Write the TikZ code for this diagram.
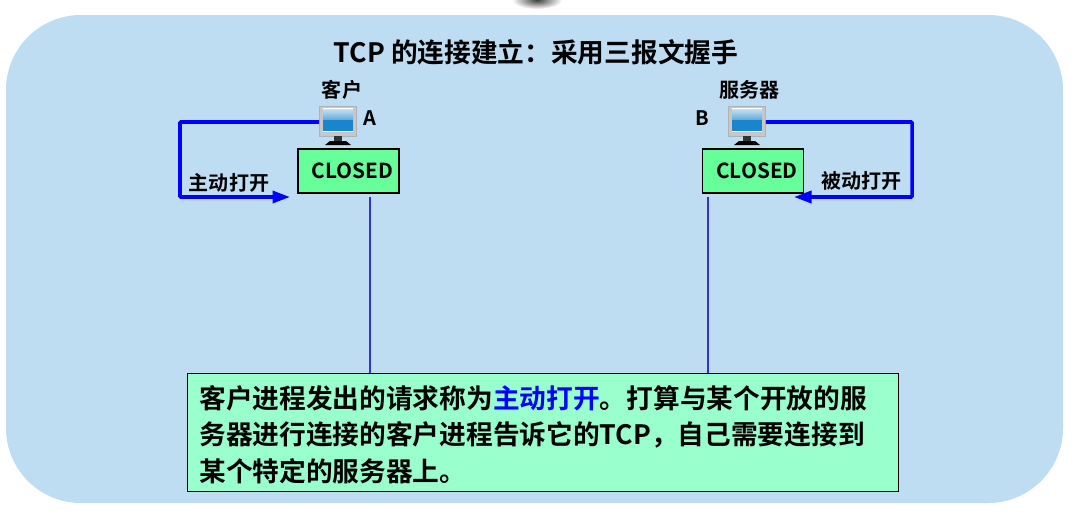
\documentclass[tikz,border=0pt]{standalone}
\usepackage{fontspec}
\setmainfont{Noto Sans CJK SC}[BoldFont={Noto Sans CJK SC Bold}]
\usetikzlibrary{arrows.meta,positioning,calc}
\definecolor{panelblue}{HTML}{BEDCF2}
\definecolor{closedgreen}{HTML}{66FF99}
\definecolor{notegreen}{HTML}{99FFCC}
\definecolor{lifeblue}{HTML}{3333CC}
\definecolor{screenblue}{HTML}{1A84CC}
\newcommand{\closedtext}{\hspace*{0.16cm}\raisebox{-2pt}{CLOSED}}
\tikzset{
  statebox/.style={draw=black,line width=0.7pt,fill=closedgreen,minimum width=2.02cm,minimum height=0.88cm,inner sep=0pt,font=\bfseries\fontsize{11.8}{11.8}\selectfont},
  hostlabel/.style={inner sep=0pt,font=\bfseries\fontsize{11.4}{11.4}\selectfont},
  openline/.style={draw=blue,line width=2pt,rounded corners=0.5pt},
  opentip/.style={-{Triangle[length=0.35cm,width=0.24cm]}},
  lifeline/.style={draw=lifeblue,line width=1.3pt},
  monitorbody/.style={minimum width=0.74cm,minimum height=0.6cm,inner sep=0pt,fill=black!22,draw=black!30,line width=0.4pt},
  monitorpic/.pic={
    \fill[white] (-15,-13) rectangle (15,11);
    \shade[top color=screenblue!25,bottom color=screenblue!70] (-15,-12) rectangle (15,-1);
    \fill[screenblue] (-15,-1) rectangle (15,10);
    \fill[black!80] (-4,15) rectangle (4,20);
    \fill[black] (-13,24) -- (-8,20) -- (8,20) -- (13,24) -- cycle;
  }
}
\begin{document}
\begin{tikzpicture}[x=0.02cm,y=-0.02cm]
  \useasboundingbox (0,0) rectangle (1075,511);
  \fill[white] (0,0) rectangle (1075,511);
  \shade[inner color=black!75,outer color=white,shading=radial] (537,0) ellipse [x radius=25,y radius=9];
  \fill[white] (500,-10) rectangle (575,0);
  \fill[panelblue,rounded corners=1.5cm] (6,15) rectangle (1063,503);
  \node[inner sep=0pt,font=\bfseries\fontsize{15.2}{15.2}\selectfont] (title) at (536,52) {TCP 的连接建立：采用三报文握手};
  % host A
  \node[statebox] (closedA) at (348.5,171) {\closedtext};
  \node[monitorbody] (pcA) at (338,121) {};
  \pic at (pcA) {monitorpic};
  \node[hostlabel] (clientlabel) at (342,90) {客户};
  \node[hostlabel] (labelA) at (370,118) {A};
  % host B
  \node[statebox] (closedB) at (753,171) {\closedtext};
  \node[monitorbody] (pcB) at (747,121) {};
  \pic at (pcB) {monitorpic};
  \node[hostlabel] (serverlabel) at (749.5,90) {服务器};
  \node[hostlabel] (labelB) at (702,118) {B};
  % active / passive open
  \coordinate (activeend) at (290,197);
  \coordinate (passiveend) at (794,197);
  \draw[openline,opentip] (pcA.west |- 0,122) -| (180,197) -- (activeend);
  \draw[openline,opentip] (pcB.east |- 0,122) -| (912,197) -- (passiveend);
  \node[hostlabel] (activelabel) at (229,183) {主动打开};
  \node[hostlabel] (passivelabel) at (861.5,181) {被动打开};
  % note
  \node[draw=black,line width=0.5pt,fill=notegreen,minimum width=14.22cm,minimum height=2.36cm,inner sep=0pt] (note) at (543,432) {};
  \node[anchor=north west,inner sep=0pt,align=left,font=\bfseries\fontsize{15.2}{20.8}\selectfont] (notetext) at (199,385) {客户进程发出的请求称为\textcolor{blue}{主动打开}。打算与某个开放的服\\务器进行连接的客户进程告诉它的TCP，自己需要连接到\\某个特定的服务器上。};
  \coordinate (lifeA) at (370,197);
  \coordinate (lifeB) at (708,197);
  \draw[lifeline] (lifeA) -- (lifeA |- note.north);
  \draw[lifeline] (lifeB) -- (lifeB |- note.north);
\end{tikzpicture}
\end{document}
